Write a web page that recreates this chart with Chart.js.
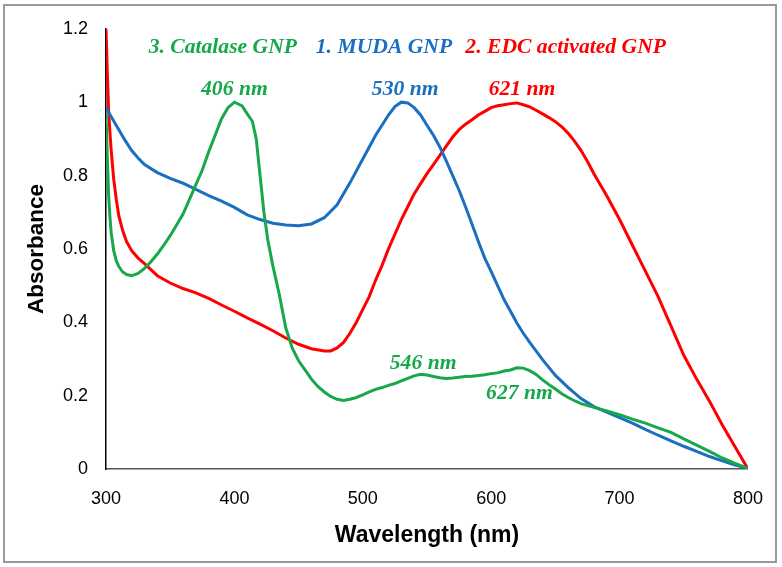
<!DOCTYPE html>
<html><head><meta charset="utf-8">
<script src="https://cdn.jsdelivr.net/npm/chart.js@4"></script>
<style>html,body{margin:0;padding:0;background:#fff;} canvas{display:block;}</style>
</head><body>
<canvas id="c" width="782" height="567"></canvas>
<script>
// ---- data (wavelength nm, absorbance) ----
const mudaWl  = [300,305,310,315,320,325,330,340,350,360,370,380,390,400,410,420,430,440,450,460,470,480,490,500,510,520,525,530,535,540,545,550,555,560,565,570,575,580,585,590,595,600,605,610,615,620,625,630,640,650,660,670,680,690,700,710,720,730,740,750,760,770,780,790,800];
const mudaAbs = [0.985,0.955,0.925,0.895,0.868,0.848,0.83,0.808,0.792,0.779,0.762,0.745,0.73,0.713,0.693,0.68,0.67,0.665,0.663,0.668,0.685,0.72,0.78,0.845,0.91,0.965,0.988,1.0,0.998,0.985,0.965,0.937,0.91,0.878,0.84,0.8,0.76,0.715,0.668,0.62,0.575,0.538,0.5,0.462,0.43,0.398,0.37,0.345,0.298,0.255,0.222,0.192,0.17,0.155,0.14,0.125,0.108,0.092,0.077,0.062,0.048,0.034,0.022,0.011,0.002];

const edcWl  = [300,301,302,303,304,306,308,310,313,316,320,325,330,340,350,360,370,380,390,400,410,420,430,440,450,460,470,475,480,485,490,495,500,505,510,515,520,525,530,535,540,545,550,555,560,565,570,575,580,585,590,595,600,605,610,615,620,625,630,635,640,645,650,655,660,665,670,675,680,690,700,710,720,730,740,750,760,770,780,790,800];
const edcAbs = [1.2,1.08,0.98,0.92,0.87,0.79,0.735,0.69,0.65,0.62,0.595,0.575,0.56,0.527,0.507,0.492,0.48,0.465,0.447,0.43,0.412,0.395,0.377,0.357,0.34,0.328,0.322,0.322,0.33,0.345,0.37,0.4,0.435,0.47,0.515,0.555,0.6,0.64,0.68,0.715,0.75,0.778,0.805,0.83,0.855,0.88,0.905,0.925,0.94,0.952,0.965,0.975,0.985,0.99,0.993,0.996,0.998,0.993,0.987,0.978,0.968,0.958,0.947,0.933,0.915,0.893,0.868,0.838,0.805,0.745,0.68,0.61,0.54,0.47,0.39,0.31,0.245,0.185,0.12,0.06,0.0];

const catWl  = [300,301,302,303,304,306,308,310,313,316,320,325,330,335,340,345,350,355,360,365,370,375,380,385,390,395,400,403,406,410,414,417,420,423,426,430,435,440,445,450,455,460,465,470,475,480,485,490,495,500,505,510,515,520,525,530,535,540,545,550,555,560,565,570,575,580,585,590,595,600,605,610,615,620,625,630,635,640,645,650,655,660,665,670,680,690,700,710,720,730,740,750,760,770,780,790,800];
const catAbs = [0.97,0.85,0.75,0.69,0.645,0.595,0.568,0.552,0.537,0.53,0.527,0.533,0.547,0.565,0.586,0.61,0.636,0.665,0.695,0.735,0.775,0.815,0.865,0.91,0.955,0.985,1.0,0.995,0.99,0.968,0.948,0.9,0.8,0.7,0.625,0.553,0.475,0.385,0.33,0.295,0.27,0.245,0.225,0.21,0.198,0.19,0.187,0.19,0.195,0.202,0.21,0.217,0.222,0.228,0.233,0.24,0.247,0.254,0.258,0.256,0.252,0.249,0.247,0.248,0.25,0.252,0.253,0.255,0.257,0.26,0.262,0.267,0.27,0.276,0.275,0.268,0.258,0.243,0.23,0.218,0.205,0.195,0.186,0.178,0.168,0.158,0.148,0.136,0.125,0.112,0.1,0.082,0.065,0.048,0.03,0.015,0.002];

const seriesNames = ['1. MUDA GNP','2. EDC activated GNP','3. Catalase GNP'];
const xTicks = [300,400,500,600,700,800];
const yTicks = [0,0.2,0.4,0.6,0.8,1.0,1.2];
const yTickLabels = ['0','0.2','0.4','0.6','0.8','1','1.2'];

// in-plot text labels (anchored in data units)
const legendLabels = ['3. Catalase GNP','1. MUDA GNP','2. EDC activated GNP'];
const legendWl = [391,516.5,658];
const legendAbs = [1.149,1.149,1.149];
const legendColorIdx = [2,0,1];
const peakLabels = ['406 nm','530 nm','621 nm','546 nm','627 nm'];
const peakWl = [400,533,624,547,622];
const peakAbs = [1.033,1.033,1.033,0.287,0.206];
const peakColorIdx = [2,0,1,2,2];

const colors = ['#1a6fc0','#ff0000','#16a84a'];

function pts(w,a){ return w.map((x,i)=>({x:x,y:a[i]})); }

const textPlugin = {
  id:'texts',
  beforeDraw(chart){
    const ctx=chart.ctx; ctx.save();
    ctx.strokeStyle='#9a9a9a'; ctx.lineWidth=2;
    ctx.strokeRect(4,5,772,557);
    ctx.restore();
  },
  afterDatasetsDraw(chart){
    const ctx=chart.ctx, xs=chart.scales.x, ys=chart.scales.y;
    const draw=(t,x,y,c)=>{
      ctx.save();
      ctx.translate(x,y); ctx.scale(1.03,1);
      ctx.fillStyle=c; ctx.fillText(t,0,0);
      ctx.restore();
    };
    ctx.save();
    ctx.textAlign='center'; ctx.textBaseline='middle';
    ctx.font='italic bold 21px "Liberation Serif"';
    legendLabels.forEach((t,i)=>{
      draw(t, xs.getPixelForValue(legendWl[i]), ys.getPixelForValue(legendAbs[i]), colors[legendColorIdx[i]]);
    });
    peakLabels.forEach((t,i)=>{
      draw(t, xs.getPixelForValue(peakWl[i]), ys.getPixelForValue(peakAbs[i]), colors[peakColorIdx[i]]);
    });
    ctx.restore();
  }
};

new Chart(document.getElementById('c'), {
  type:'line',
  data:{ datasets:[
    {label:seriesNames[2], data:pts(catWl,catAbs), borderColor:colors[2]},
    {label:seriesNames[0], data:pts(mudaWl,mudaAbs), borderColor:colors[0]},
    {label:seriesNames[1], data:pts(edcWl,edcAbs), borderColor:colors[1]}
  ]},
  options:{
    responsive:false, animation:false,
    parsing:false,
    elements:{ line:{borderWidth:3, tension:0, fill:false}, point:{radius:0} },
    layout:{ padding:{top:26,right:34,left:0,bottom:0} },
    plugins:{ legend:{display:false}, tooltip:{enabled:false} },
    scales:{
      x:{ type:'linear', min:300, max:800,
        afterBuildTicks:s=>{ s.ticks = xTicks.map(v=>({value:v})); },
        afterFit:s=>{ s.height=98; },
        ticks:{ color:'#000', font:{family:'"Liberation Sans"', size:18}, padding:19, maxRotation:0 },
        grid:{ display:false, drawTicks:false },
        border:{ display:true, color:'#555', width:1.5 },
        title:{ display:true, text:'Wavelength (nm)', color:'#000', font:{family:'"Liberation Sans"', size:23, weight:'bold'}, padding:{top:0,bottom:18} }
      },
      y:{ type:'linear', min:0, max:1.2,
        afterBuildTicks:s=>{ s.ticks = yTicks.map(v=>({value:v})); },
        afterFit:s=>{ s.width=106; },
        ticks:{ color:'#000', font:{family:'"Liberation Sans"', size:18}, padding:18,
          callback:(v)=>{ const i=yTicks.indexOf(v); return i>=0?yTickLabels[i]:''; } },
        grid:{ display:false, drawTicks:false },
        border:{ display:true, color:'#000', width:1.5 },
        title:{ display:true, text:'Absorbance', color:'#000', font:{family:'"Liberation Sans"', size:22.5, weight:'bold'}, padding:{top:23,bottom:0} }
      }
    }
  },
  plugins:[textPlugin]
});
</script>
</body></html>
